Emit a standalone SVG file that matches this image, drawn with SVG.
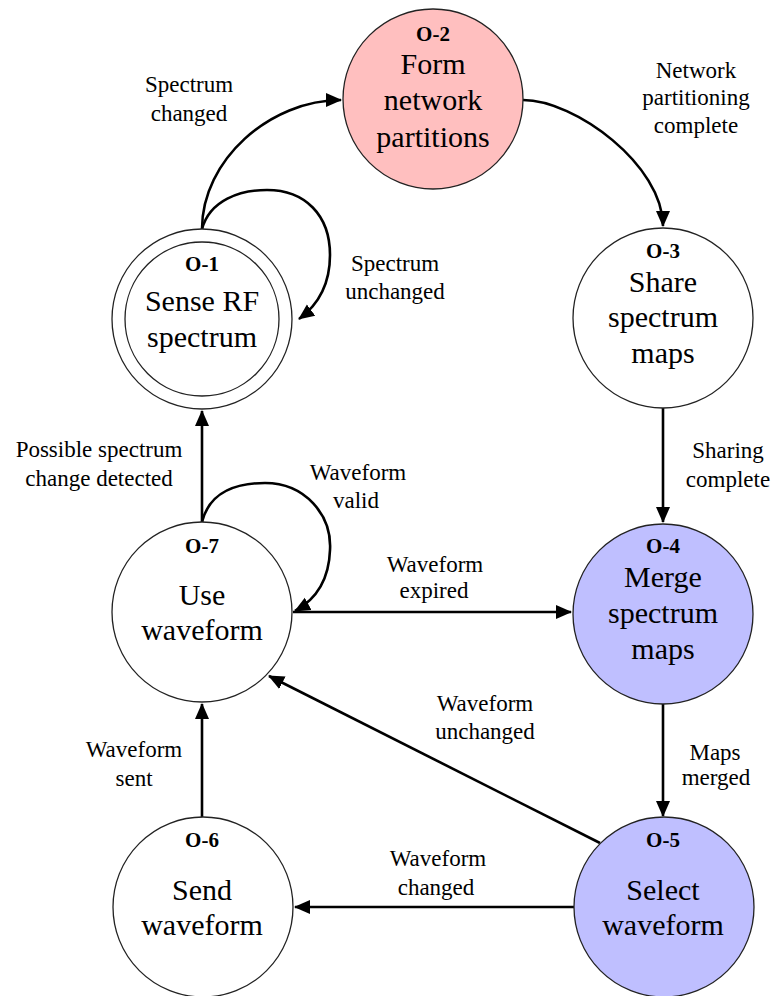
<svg xmlns="http://www.w3.org/2000/svg" width="776" height="996" viewBox="0 0 776 996">
<style>
.node{stroke:#222;stroke-width:1.3}
.w{fill:#fff}.pink{fill:#ffbfbf}.lav{fill:#bfbfff}
text{font-family:'Liberation Serif','Times New Roman','DejaVu Serif',Tinos,serif;text-anchor:middle;fill:#000}
.id{font-weight:bold;font-size:21px}
.lb{font-size:30px}
.el{font-size:23px}
.c{fill:none;stroke:#000;stroke-width:2.6;marker-end:url(#ah)}
</style>
<defs>
<marker id="ah" markerUnits="userSpaceOnUse" markerWidth="16" markerHeight="16" viewBox="0 0 16 16" refX="15" refY="8" orient="auto">
<path d="M0,1 L16,8 L0,15 z" fill="#000"/>
</marker>
</defs>
<rect width="776" height="996" fill="#fff"/>
<g id="connectors">
<path class="c" d="M202,229 C202,160 270,100 341,100"/>
<path class="c" d="M202,229 C210,200 240,190 267,190 C305,190 330,215 330,255 C330,285 318,305 299,319"/>
<path class="c" d="M523,100 C575,100 663,165 663,226"/>
<path class="c" d="M663,408 L663,522"/>
<path class="c" d="M663,704 L663,816"/>
<path class="c" d="M574,907 L295,907"/>
<path class="c" d="M202,818 L202,704"/>
<path class="c" d="M600,843 L269,676"/>
<path class="c" d="M293,612 L571,612"/>
<path class="c" d="M202,522 C210,490 240,483 265,483 C305,483 332,515 330,550 C329,580 315,600 295,611"/>
<path class="c" d="M202,522 L202,411"/>
</g>
<g id="O-1">
<circle class="node w" cx="202" cy="319" r="90"/>
<circle class="node w" cx="202" cy="319" r="77"/>
<text class="id" x="202" y="271" font-family="Liberation Serif, serif">O-1</text>
<text class="lb" x="202" y="311" font-family="Liberation Serif, serif">Sense RF</text>
<text class="lb" x="202" y="347" font-family="Liberation Serif, serif">spectrum</text>
</g>
<g id="O-2">
<circle class="node pink" cx="433" cy="99" r="90"/>
<text class="id" x="433" y="41">O-2</text>
<text class="lb" x="433" y="74">Form</text>
<text class="lb" x="433" y="110">network</text>
<text class="lb" x="433" y="147">partitions</text>
</g>
<g id="O-3">
<circle class="node w" cx="663" cy="318" r="90"/>
<text class="id" x="663" y="258">O-3</text>
<text class="lb" x="663" y="292">Share</text>
<text class="lb" x="663" y="327">spectrum</text>
<text class="lb" x="663" y="363">maps</text>
</g>
<g id="O-4">
<circle class="node lav" cx="663" cy="614" r="90"/>
<text class="id" x="663" y="553">O-4</text>
<text class="lb" x="663" y="587">Merge</text>
<text class="lb" x="663" y="623">spectrum</text>
<text class="lb" x="663" y="659">maps</text>
</g>
<g id="O-5">
<circle class="node lav" cx="664" cy="907" r="90"/>
<text class="id" x="663" y="847">O-5</text>
<text class="lb" x="663" y="900">Select</text>
<text class="lb" x="663" y="935">waveform</text>
</g>
<g id="O-6">
<circle class="node w" cx="203" cy="907" r="90"/>
<text class="id" x="202" y="847">O-6</text>
<text class="lb" x="202" y="900">Send</text>
<text class="lb" x="202" y="935">waveform</text>
</g>
<g id="O-7">
<circle class="node w" cx="202" cy="612" r="90"/>
<text class="id" x="202" y="553">O-7</text>
<text class="lb" x="202" y="605">Use</text>
<text class="lb" x="202" y="640">waveform</text>
</g>
<g id="labels">
<text class="el" x="189" y="92">Spectrum</text>
<text class="el" x="189" y="121">changed</text>
<text class="el" x="395" y="271">Spectrum</text>
<text class="el" x="395" y="299">unchanged</text>
<text class="el" x="696" y="78">Network</text>
<text class="el" x="696" y="105">partitioning</text>
<text class="el" x="696" y="133">complete</text>
<text class="el" x="728" y="458">Sharing</text>
<text class="el" x="728" y="487">complete</text>
<text class="el" x="99" y="457">Possible spectrum</text>
<text class="el" x="99" y="486">change detected</text>
<text class="el" x="358" y="480">Waveform</text>
<text class="el" x="356" y="508">valid</text>
<text class="el" x="435" y="572">Waveform</text>
<text class="el" x="434" y="598">expired</text>
<text class="el" x="485" y="711">Waveform</text>
<text class="el" x="485" y="739">unchanged</text>
<text class="el" x="715" y="760">Maps</text>
<text class="el" x="716" y="785">merged</text>
<text class="el" x="134" y="757">Waveform</text>
<text class="el" x="134" y="786">sent</text>
<text class="el" x="438" y="866">Waveform</text>
<text class="el" x="436" y="895">changed</text>
</g>
</svg>
